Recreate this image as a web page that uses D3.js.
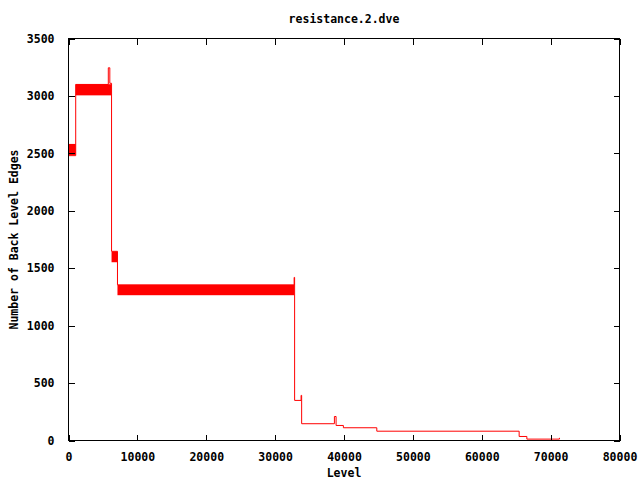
<!DOCTYPE html>
<html>
<head>
<meta charset="utf-8">
<script src="https://cdn.jsdelivr.net/npm/d3@7"></script>
<style>
  html, body { margin: 0; padding: 0; background: #fff; }
  svg { display: block; }
  text { font-family: "DejaVu Sans Mono", "Liberation Mono", monospace; font-weight: bold; font-size: 11.5px; fill: #000; }
</style>
</head>
<body>
<svg id="chart" width="640" height="480"></svg>
<script>
// ---- data ----
const title = "resistance.2.dve";
const xLabel = "Level";
const yLabel = "Number of Back Level Edges";
const xTicks = [0, 10000, 20000, 30000, 40000, 50000, 60000, 70000, 80000];
const yTicks = [0, 500, 1000, 1500, 2000, 2500, 3000, 3500];

// step line (value holds from this level until next level)
const levels = [0, 1046, 5780, 6000, 6250, 7110, 32760, 32830, 33770, 33850, 38605, 38850, 39910, 44763, 65430, 66550, 71280];
const edges  = [2480, 3100, 3245, 3110, 1647, 1355, 1420, 349, 393, 146, 209, 131, 111, 81, 35, 12, 23];

// dense oscillation bands (level range, low/high edge count)
const bandStart = [0, 1046, 6250, 7110];
const bandEnd   = [1046, 6200, 7110, 32790];
const bandLow   = [2485, 3005, 1552, 1265];
const bandHigh  = [2582, 3102, 1645, 1355];

// ---- layout ----
const svg = d3.select("#chart");
const mLeft = 68.5, mRight = 619.5, mTop = 38.5, mBottom = 440.5;

const x = d3.scaleLinear().domain([0, 80000]).range([mLeft, mRight]);
const y = d3.scaleLinear().domain([0, 3500]).range([mBottom, mTop]);

const color = "#ff0000";
const tickLen = 6;

// bands
const bands = bandStart.map((s, i) => ({s, e: bandEnd[i], lo: bandLow[i], hi: bandHigh[i]}));
svg.append("g").selectAll("rect").data(bands).join("rect")
  .attr("x", d => x(d.s))
  .attr("width", d => x(d.e) - x(d.s))
  .attr("y", d => y(d.hi))
  .attr("height", d => y(d.lo) - y(d.hi))
  .attr("fill", color);

// step line
const pts = levels.map((l, i) => [l, edges[i]]);
svg.append("path")
  .datum(pts)
  .attr("fill", "none")
  .attr("stroke", color)
  .attr("stroke-width", 1)
  .attr("d", d3.line().x(d => x(d[0])).y(d => y(d[1])).curve(d3.curveStepAfter));

// axes with inward ticks, mirrored
const axG = svg.append("g");
axG.append("g").attr("transform", `translate(0,${mBottom})`)
  .call(d3.axisBottom(x).tickValues(xTicks).tickSize(-tickLen).tickPadding(12).tickFormat(d3.format("d")));
axG.append("g").attr("transform", `translate(0,${mTop})`)
  .call(d3.axisTop(x).tickValues(xTicks).tickSize(-tickLen).tickFormat(""));
axG.append("g").attr("transform", `translate(${mLeft},0)`)
  .call(d3.axisLeft(y).tickValues(yTicks).tickSize(-tickLen).tickPadding(14).tickFormat(d3.format("d")));
axG.append("g").attr("transform", `translate(${mRight},0)`)
  .call(d3.axisRight(y).tickValues(yTicks).tickSize(-tickLen).tickFormat(""));

axG.selectAll(".domain").remove();
axG.selectAll(".tick line").attr("stroke", "#000").attr("shape-rendering", "crispEdges");
axG.selectAll(".tick text").attr("font-family", null).attr("font-size", null).attr("fill", "#000");

// border
svg.append("rect")
  .attr("x", mLeft).attr("y", mTop)
  .attr("width", mRight - mLeft).attr("height", mBottom - mTop)
  .attr("fill", "none").attr("stroke", "#000").attr("stroke-width", 1)
  .attr("shape-rendering", "crispEdges");

// titles
svg.append("text").attr("x", (mLeft + mRight) / 2).attr("y", 23)
  .attr("text-anchor", "middle").text(title);
svg.append("text").attr("x", (mLeft + mRight) / 2).attr("y", 477)
  .attr("text-anchor", "middle").text(xLabel);
svg.append("text")
  .attr("transform", `translate(18,${(mTop + mBottom) / 2}) rotate(-90)`)
  .attr("text-anchor", "middle").text(yLabel);
</script>
</body>
</html>
